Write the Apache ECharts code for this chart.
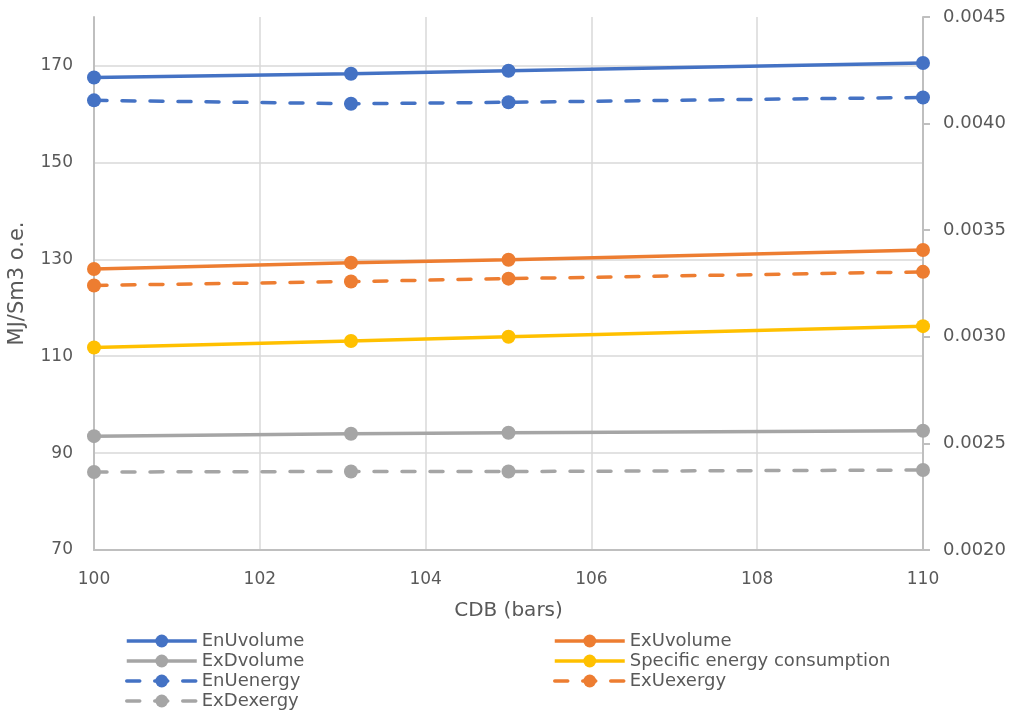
<!DOCTYPE html>
<html>
<head>
<meta charset="utf-8">
<script src="https://cdn.jsdelivr.net/npm/echarts@6/dist/echarts.min.js"></script>
<style>
  html, body { margin: 0; padding: 0; background: #fff; }
  #chart { width: 1011px; height: 713px; }
</style>
</head>
<body>
<div id="chart"></div>
<script>
// CDB pressure (bars) at each operating point
const cdb = [100, 103.1, 105, 110];

// Left axis series (MJ/Sm3 o.e.)
const enUvolume = [167.5, 168.3, 168.9, 170.5];
const exUvolume = [128.0, 129.3, 129.9, 131.9];
const exDvolume = [93.5, 94.0, 94.2, 94.6];
const enUenergy = [162.8, 162.1, 162.4, 163.4];
const exUexergy = [124.6, 125.4, 126.0, 127.4];
const exDexergy = [86.1, 86.2, 86.2, 86.5];

// Right axis series
const specificEnergy = [0.00295, 0.00298, 0.00300, 0.00305];

const xTicks = { min: 100, max: 110, step: 2 };
const leftTicks = { min: 70, max: 180, step: 20 };
const rightTicks = { min: 0.0020, max: 0.0045, step: 0.0005 };

const FONT = 'DejaVu Sans';
const TEXT = '#595959';
const GRID = '#D9D9D9';
const AXIS = '#BFBFBF';

const BLUE = '#4472C4', ORANGE = '#ED7D31', GREY = '#A5A5A5', YELLOW = '#FFC000';

function pairs(ys) { return cdb.map((x, i) => [x, ys[i]]); }

function lineSeries(name, ys, color, dashed, yAxisIndex) {
  return {
    name: name,
    type: 'line',
    yAxisIndex: yAxisIndex || 0,
    data: pairs(ys),
    symbol: 'circle',
    symbolSize: 14,
    showSymbol: true,
    itemStyle: { color: color },
    lineStyle: dashed
      ? { color: color, width: 3.5, type: [13, 15], cap: 'round' }
      : { color: color, width: 3.5 },
    emphasis: { disabled: true },
    z: 3
  };
}

// Two stacked legend columns under the plot
const legendCommon = {
  orient: 'vertical',
  top: 632,
  height: 120,
  padding: 0,
  itemWidth: 70,
  itemHeight: 16,
  itemGap: 2,
  lineStyle: { width: 3.5 },
  textStyle: { fontFamily: FONT, fontSize: 18, color: TEXT, lineHeight: 16 },
  selectedMode: false
};

const chart = echarts.init(document.getElementById('chart'), null, { renderer: 'canvas' });

chart.setOption({
  animation: false,
  backgroundColor: '#fff',
  textStyle: { fontFamily: FONT },
  grid: { left: 94, right: 88, top: 17, bottom: 163, containLabel: false, outerBoundsMode: 'none' },
  legend: [
    Object.assign({}, legendCommon, {
      left: 125,
      data: ['EnUvolume', 'ExDvolume', 'EnUenergy', 'ExDexergy']
    }),
    Object.assign({}, legendCommon, {
      left: 553,
      data: ['ExUvolume', 'Specific energy consumption', 'ExUexergy']
    })
  ],
  xAxis: {
    type: 'value',
    min: xTicks.min,
    max: xTicks.max,
    interval: xTicks.step,
    name: 'CDB (bars)',
    nameLocation: 'middle',
    nameGap: 51,
    nameTextStyle: { fontFamily: FONT, fontSize: 20, color: TEXT },
    axisLine: { show: true, lineStyle: { color: AXIS, width: 2 } },
    axisTick: { show: false },
    axisLabel: { fontFamily: FONT, fontSize: 17, color: TEXT, margin: 21 },
    splitLine: { show: true, lineStyle: { color: GRID, width: 1.5 } }
  },
  yAxis: [
    {
      type: 'value',
      position: 'left',
      min: leftTicks.min,
      max: leftTicks.max,
      interval: leftTicks.step,
      name: 'MJ/Sm3 o.e.',
      nameLocation: 'middle',
      nameGap: 66,
      nameTextStyle: { fontFamily: FONT, fontSize: 21, color: TEXT },
      axisLine: { show: true, lineStyle: { color: AXIS, width: 2 } },
      axisTick: { show: false },
      axisLabel: { fontFamily: FONT, fontSize: 17, color: TEXT, margin: 21, showMaxLabel: false },
      splitLine: { show: true, showMaxLine: false, lineStyle: { color: GRID, width: 1.5 } }
    },
    {
      type: 'value',
      position: 'right',
      min: rightTicks.min,
      max: rightTicks.max,
      interval: rightTicks.step,
      axisLine: { show: true, lineStyle: { color: AXIS, width: 2 } },
      axisTick: { show: true, inside: false, length: 7, lineStyle: { color: AXIS, width: 2 } },
      axisLabel: {
        fontFamily: FONT, fontSize: 18, color: TEXT, margin: 20,
        formatter: v => v.toFixed(4)
      },
      splitLine: { show: false }
    }
  ],
  series: [
    lineSeries('EnUvolume', enUvolume, BLUE, false),
    lineSeries('ExUvolume', exUvolume, ORANGE, false),
    lineSeries('ExDvolume', exDvolume, GREY, false),
    lineSeries('Specific energy consumption', specificEnergy, YELLOW, false, 1),
    lineSeries('EnUenergy', enUenergy, BLUE, true),
    lineSeries('ExUexergy', exUexergy, ORANGE, true),
    lineSeries('ExDexergy', exDexergy, GREY, true)
  ]
});
</script>
</body>
</html>
